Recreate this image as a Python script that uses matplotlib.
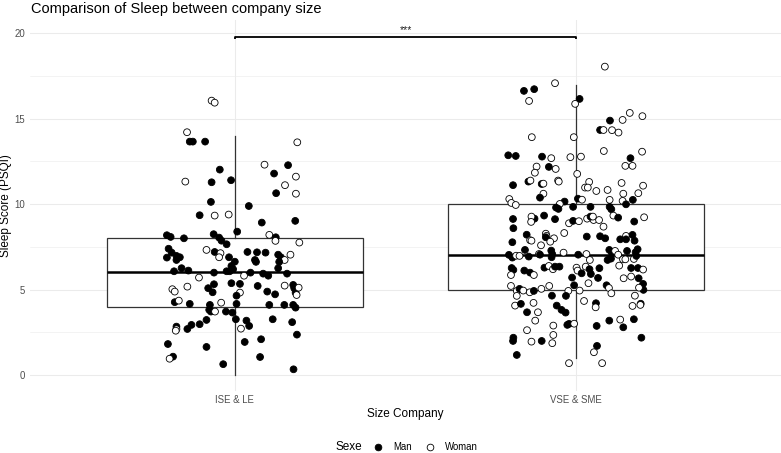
import matplotlib
matplotlib.use("Agg")
import matplotlib.pyplot as plt
from matplotlib.lines import Line2D
import numpy as np

plt.rcParams['font.family'] = ['Liberation Sans', 'DejaVu Sans']

# ---------------- data ----------------
categories = ["ISE & LE", "VSE & SME"]
box_q1 = [4, 5]
box_med = [6, 7]
box_q3 = [8, 10]
box_lo = [0, 1]
box_hi = [14, 17]
signif_label = "***"
signif_y = 19.8

ise_dx = [-0.068, -0.059, -0.140, -0.132, -0.123, -0.087, 0.183, 0.087, 0.156, -0.044,
          0.115, -0.145, -0.068, -0.011, 0.179, 0.147, 0.121, 0.179, -0.070, 0.041,
          -0.103, -0.059, -0.018, 0.079, 0.177, 0.007, -0.199, -0.188, -0.062, 0.101,
          -0.149, -0.046, -0.039, -0.024, 0.120, 0.119, 0.189, -0.194, -0.185, -0.199,
          -0.171, -0.161, -0.171, -0.083, -0.059, -0.042, -0.046, -0.017, 0.000, 0.037,
          0.065, 0.090, 0.059, 0.062, 0.127, 0.135, 0.146, 0.163, 0.130, -0.010,
          0.127, -0.178, -0.156, -0.136, -0.061, -0.024, -0.015, -0.005, 0.027, 0.046,
          0.083, 0.098, 0.153, -0.105, -0.061, -0.010, 0.015, -0.078, -0.065, -0.183,
          -0.176, -0.139, 0.067, 0.095, 0.118, 0.146, 0.171, 0.174, 0.178, 0.187,
          0.181, 0.015, 0.005, -0.176, -0.164, -0.132, -0.040, -0.073, 0.005, 0.101,
          0.145, 0.171, 0.178, -0.075, -0.070, -0.058, -0.026, -0.007, 0.003, -0.083,
          -0.103, -0.127, -0.139, -0.171, -0.171, -0.173, 0.034, 0.042, 0.018, 0.111,
          0.168, 0.182, -0.196, -0.083, 0.029, 0.077, -0.181, -0.191, 0.074, -0.034,
          0.172]
ise_y = [16.06, 15.94, 14.21, 13.66, 13.66, 13.66, 13.62, 12.31, 12.28, 12.02,
         11.79, 11.32, 11.28, 11.40, 11.61, 11.11, 10.64, 10.61, 10.13, 9.89,
         9.35, 9.33, 9.39, 8.92, 9.02, 8.39, 8.18, 8.08, 8.24, 8.20,
         8.00, 8.04, 7.86, 7.65, 8.06, 7.85, 7.75, 7.39, 7.16, 6.87,
         6.97, 6.89, 6.73, 7.32, 7.20, 7.13, 6.89, 6.89, 6.63, 7.20,
         7.18, 7.16, 6.73, 6.62, 7.04, 6.89, 6.73, 7.04, 6.62, 6.38,
         6.25, 6.07, 6.25, 6.11, 5.99, 6.07, 6.07, 6.19, 5.81, 5.99,
         5.93, 5.81, 5.93, 5.70, 5.31, 5.37, 5.33, 5.08, 4.84, 5.02,
         4.88, 5.17, 5.21, 4.88, 4.72, 5.23, 5.27, 5.08, 4.82, 5.11,
         4.68, 4.82, 4.64, 4.26, 4.35, 4.16, 4.23, 4.10, 4.16, 4.10,
         4.10, 4.10, 3.94, 3.81, 3.71, 3.71, 3.71, 3.65, 3.26, 3.22,
         2.97, 2.93, 2.69, 2.83, 2.68, 2.59, 3.18, 2.87, 2.71, 3.26,
         3.09, 2.36, 1.81, 1.64, 1.93, 2.09, 1.07, 0.95, 1.05, 0.63,
         0.33]
ise_sex = ("WWWMMMWWMM" "MWMMWWMWMM" "MWWMMMMMMW" "MMMMMWWMMM" "MMMWMWWMMM"
           "MMMMMMWWMM" "MMMMMMMMWM" "MMMWMMMMMW" "WWMMMWMMMW" "WWMMWMWMMM"
           "MMMMMWMMMM" "MMMMWWMMWM" "MMMMMMMWMM" "M")

vse_dx = [0.084, -0.062, -0.153, -0.123, -0.138, 0.010, -0.003, 0.157, 0.136, 0.194,
          0.099, -0.130, -0.007, 0.070, 0.080, 0.105, 0.124, 0.081, 0.193, -0.199,
          -0.177, -0.100, -0.073, -0.017, 0.014, 0.159, -0.116, -0.121, -0.080, -0.060,
          0.144, 0.165, 0.003, -0.185, -0.140, -0.134, -0.101, -0.096, -0.053, -0.051,
          0.038, 0.026, 0.034, 0.059, 0.092, 0.133, 0.196, 0.138, 0.182, -0.096,
          -0.106, -0.196, -0.190, -0.177, 0.005, 0.017, 0.098, 0.136, 0.166, 0.146,
          -0.034, -0.048, -0.059, -0.052, -0.009, 0.042, 0.098, 0.103, -0.185, -0.122,
          -0.131, -0.132, -0.094, -0.062, -0.021, -0.009, 0.008, 0.032, 0.051, 0.067,
          0.042, 0.049, 0.080, 0.109, 0.123, 0.170, 0.199, -0.184, -0.145, -0.089,
          -0.087, -0.089, -0.065, -0.035, -0.135, -0.131, 0.031, 0.070, 0.085, 0.146,
          0.129, 0.146, 0.165, 0.171, -0.103, -0.076, -0.187, -0.150, -0.109, -0.073,
          -0.070, -0.037, 0.006, 0.030, 0.097, 0.105, 0.102, 0.092, 0.114, 0.123,
          0.149, 0.137, 0.144, 0.169, 0.174, 0.180, 0.176, -0.197, -0.187, -0.176,
          -0.166, -0.139, -0.106, -0.072, -0.189, -0.184, -0.152, -0.135, -0.124, -0.093,
          -0.080, -0.068, -0.062, -0.049, 0.001, 0.004, 0.016, 0.028, 0.039, 0.043,
          0.040, 0.068, 0.064, 0.036, -0.012, -0.006, 0.126, 0.139, 0.161, 0.161,
          0.181, 0.196, 0.183, 0.196, 0.197, 0.184, -0.191, -0.191, -0.174, -0.166,
          -0.155, -0.136, -0.124, -0.102, -0.079, -0.023, 0.010, 0.089, 0.096, 0.103,
          -0.071, -0.030, -0.174, -0.179, -0.162, -0.125, -0.144, -0.112, -0.057, -0.043,
          -0.031, 0.023, 0.058, 0.057, 0.172, 0.165, 0.189, 0.188, -0.120, -0.144,
          -0.026, -0.021, -0.006, 0.060, 0.097, 0.129, 0.138, 0.169, -0.067, -0.067,
          -0.131, -0.101, -0.070, -0.184, -0.185, 0.191, 0.061, 0.052, -0.174, -0.021,
          0.076]
vse_y = [18.05, 17.08, 16.63, 16.73, 16.04, 16.16, 15.87, 15.34, 14.93, 15.15,
         14.89, 13.92, 13.92, 14.34, 14.34, 14.33, 14.19, 13.11, 13.07, 12.86,
         12.82, 12.78, 12.69, 12.75, 12.78, 12.69, 12.20, 11.84, 12.18, 12.06,
         12.24, 12.24, 11.77, 11.11, 11.32, 11.38, 11.18, 11.20, 11.38, 11.32,
         11.30, 10.97, 10.97, 10.77, 10.83, 11.24, 11.08, 10.61, 10.64, 10.61,
         10.38, 10.30, 10.07, 9.95, 10.32, 10.26, 10.25, 10.19, 10.25, 9.99,
         10.15, 10.01, 9.80, 9.72, 9.84, 9.84, 9.84, 9.70, 9.13, 9.15,
         9.27, 8.96, 9.33, 9.12, 8.88, 9.02, 9.00, 9.15, 9.07, 9.07,
         9.27, 9.27, 8.68, 9.33, 9.21, 8.98, 9.23, 8.59, 8.21, 8.27,
         8.14, 8.06, 8.00, 8.31, 7.89, 7.86, 8.10, 8.12, 8.00, 8.14,
         7.94, 7.94, 8.20, 7.86, 7.59, 7.80, 7.77, 7.32, 7.08, 7.28,
         7.07, 7.16, 7.04, 7.08, 7.32, 7.13, 6.81, 6.73, 7.26, 7.04,
         7.26, 6.77, 6.77, 6.79, 7.18, 7.36, 6.97, 7.03, 6.87, 6.98,
         6.97, 6.93, 7.04, 6.89, 6.26, 6.15, 6.11, 5.99, 5.85, 6.28,
         6.38, 6.19, 6.34, 6.34, 6.28, 6.11, 5.95, 6.34, 6.19, 5.91,
         6.73, 6.25, 5.68, 5.37, 5.70, 5.25, 6.40, 5.66, 5.76, 6.26,
         6.26, 6.17, 5.66, 5.33, 4.98, 5.11, 5.85, 5.21, 4.92, 5.04,
         4.94, 4.84, 4.92, 5.04, 5.21, 4.92, 4.94, 5.25, 5.09, 4.78,
         4.64, 4.63, 4.63, 4.06, 4.16, 4.22, 3.67, 3.67, 4.06, 3.81,
         3.65, 4.33, 4.20, 3.96, 4.64, 4.04, 4.17, 4.10, 3.18, 2.62,
         2.93, 2.99, 3.00, 2.87, 3.18, 3.24, 2.79, 3.26, 2.89, 2.34,
         1.95, 1.99, 1.86, 2.18, 1.99, 2.18, 1.70, 1.33, 1.17, 0.69,
         0.69]
vse_sex = ("WWMMWMWWWW" "MWWMWWWWWM" "MMWWWMWWMW" "WWWMMWMWWW" "WWWWWWWWWW"
           "MWWWMWWWMM" "MWMMMMMMMM" "WWMMWMWWWW" "MWWWMMWMMW" "WMWWWWMMMW"
           "MMMMWWMMWM" "MWMWMMMMWW" "MWWWMMMMMW" "WMMMMMMMWM" "WWMMWWMWMM"
           "WMMWMMWWWM" "MWMMMWWWWM" "WWMWWWWMWW" "MMWWMWMWMM" "MWMWWWMWWW"
           "MMWMMWMMWW" "WMWMMMMWMW" "W")

sex_labels = {"M": "Man", "W": "Woman"}
yticks = [0, 5, 10, 15, 20]

# ---------------- figure ----------------
W, H = 781, 453
fig = plt.figure(figsize=(W / 100, H / 100), dpi=100)
ax = fig.add_axes([30 / W, 1 - 391 / H, (781 - 30) / W, (391 - 20) / H])

grid_c = "#EBEBEB"
ax.set_xlim(0.4, 2.6)
ax.set_ylim(-0.94, 20.78)
ax.set_yticks(yticks)
ax.set_yticks([2.5, 7.5, 12.5, 17.5], minor=True)
ax.set_xticks([1, 2])
ax.set_xticklabels(categories)
ax.grid(True, which="major", color=grid_c, lw=0.75)
ax.grid(True, which="minor", axis="y", color=grid_c, lw=0.4)
ax.set_axisbelow(True)
for s in ax.spines.values():
    s.set_visible(False)
ax.tick_params(which="both", length=0)
ax.tick_params(axis="x", labelsize=6.9, labelcolor="#4D4D4D", pad=3)
ax.tick_params(axis="y", labelsize=6.9, labelcolor="#4D4D4D", pad=3.5)

# boxes
stats = []
for i in range(2):
    stats.append(dict(med=box_med[i], q1=box_q1[i], q3=box_q3[i],
                      whislo=box_lo[i], whishi=box_hi[i], fliers=[]))
ax.bxp(stats, positions=[1, 2], widths=0.75, showcaps=False, showfliers=False,
       patch_artist=True,
       boxprops=dict(facecolor="white", edgecolor="#333333", lw=0.9),
       whiskerprops=dict(color="#333333", lw=0.9),
       medianprops=dict(color="black", lw=1.8),
       manage_ticks=False, zorder=2)

# jittered points
for pos, dx, yy, sx in [(1, ise_dx, ise_y, ise_sex), (2, vse_dx, vse_y, vse_sex)]:
    xs = [pos + d for d in dx]
    fcs = ["black" if c == "M" else "white" for c in sx]
    ax.scatter(xs, yy, s=24, facecolors=fcs, edgecolors="black",
               linewidths=0.6, zorder=3)

# significance bracket
ax.plot([1, 1, 2, 2], [signif_y - 0.15, signif_y, signif_y, signif_y - 0.15],
        color="black", lw=1.3, zorder=4, solid_capstyle="butt")
ax.text(1.5, signif_y + 0.1, signif_label, ha="center", va="bottom",
        fontsize=7.5, color="#222222")

# labels
ax.set_ylabel("Sleep Score (PSQI)", fontsize=8.5)
ax.yaxis.set_label_coords(-18 / (781 - 30), 0.5)
fig.text(405 / W, 1 - 414 / H, "Size Company", ha="center", va="center", fontsize=8.5)
fig.text(31 / W, 1 - 9 / H, "Comparison of Sleep between company size",
         ha="left", va="center", fontsize=10.5)

# legend
fig.text(335 / W, 1 - 447 / H, "Sexe", ha="left", va="center", fontsize=8.5)
handles = [Line2D([], [], ls="none", marker="o", markersize=4.8, markerfacecolor="black",
                  markeredgecolor="black", markeredgewidth=0.6),
           Line2D([], [], ls="none", marker="o", markersize=4.8, markerfacecolor="white",
                  markeredgecolor="black", markeredgewidth=0.6)]
fig.legend(handles, [sex_labels["M"], sex_labels["W"]], ncol=2, frameon=False,
           loc="center left", bbox_to_anchor=(373 / W, 1 - 447 / H), borderpad=0,
           borderaxespad=0, handlelength=1.0, handletextpad=1.1, columnspacing=1.4,
           fontsize=6.9)

fig.savefig("out.png", dpi=100)
